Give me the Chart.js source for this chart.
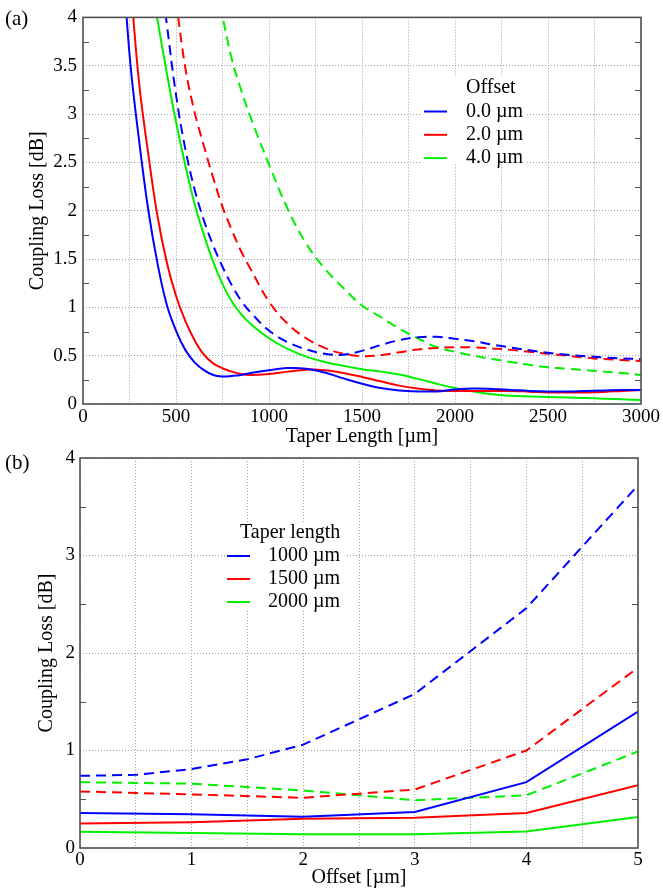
<!DOCTYPE html>
<html><head><meta charset="utf-8">
<script src="https://cdn.jsdelivr.net/npm/chart.js@4.4.1/dist/chart.umd.min.js"></script>
<style>
html,body{margin:0;padding:0;background:#fff;}
body{width:663px;height:893px;position:relative;overflow:hidden;font-family:"Liberation Serif",serif;}
#ca{position:absolute;left:0;top:0;}
#cb{position:absolute;left:0;top:440px;}
.panel{position:absolute;left:5px;font:21px "Liberation Serif",serif;color:#000;line-height:24px;}
</style></head><body>
<canvas id="ca" width="663" height="462"></canvas>
<canvas id="cb" width="663" height="453"></canvas>
<div class="panel" style="top:6px">(a)</div>
<div class="panel" style="top:450px">(b)</div>
<script>
// ---------- Panel (a): loss vs taper length ----------
const taperLength = [200,250,300,350,400,450,500,550,600,650,700,750,800,850,900,1000,1100,1200,1300,1400,1500,1600,1700,1800,1900,2000,2100,2200,2300,2400,2500,2600,2700,2800,2900,3000];
const solid00 = [5.0,3.62,2.75,2.02,1.46,1.03,0.76,0.56,0.43,0.35,0.30,0.285,0.29,0.30,0.32,0.35,0.372,0.365,0.325,0.265,0.21,0.165,0.14,0.13,0.13,0.15,0.16,0.155,0.145,0.135,0.13,0.13,0.135,0.14,0.145,0.145];
const solid20 = [null,4.5,3.35,2.6,1.95,1.47,1.12,0.86,0.66,0.51,0.42,0.37,0.335,0.31,0.30,0.31,0.335,0.355,0.35,0.32,0.28,0.235,0.19,0.16,0.14,0.135,0.135,0.135,0.135,0.128,0.12,0.118,0.12,0.125,0.135,0.145];
const solid40 = [null,null,null,4.55,3.98,3.43,2.92,2.47,2.07,1.75,1.47,1.24,1.06,0.93,0.83,0.68,0.57,0.49,0.435,0.395,0.36,0.335,0.305,0.26,0.21,0.165,0.13,0.10,0.085,0.078,0.072,0.067,0.062,0.055,0.048,0.042];
const dashed00 = [null,null,null,null,4.7,3.94,3.2,2.64,2.22,1.9,1.64,1.42,1.23,1.07,0.95,0.76,0.64,0.565,0.52,0.51,0.55,0.61,0.66,0.69,0.695,0.675,0.65,0.615,0.585,0.555,0.53,0.51,0.495,0.482,0.472,0.465];
const dashed20 = [null,null,null,null,null,null,4.17,3.48,3.02,2.67,2.34,2.04,1.8,1.58,1.4,1.06,0.83,0.68,0.58,0.52,0.495,0.505,0.535,0.565,0.58,0.588,0.585,0.575,0.56,0.54,0.52,0.5,0.48,0.465,0.455,0.445];
const dashed40 = [null,null,null,null,null,null,null,null,null,null,4.45,4.01,3.57,3.25,2.97,2.48,2.02,1.66,1.4,1.2,1.02,0.9,0.78,0.68,0.59,0.54,0.5,0.465,0.435,0.405,0.38,0.365,0.35,0.335,0.32,0.30];
const offsetLegend = ['0.0 µm','2.0 µm','4.0 µm'];
const xLabelsA = [0,500,1000,1500,2000,2500,3000];
const yLabelsA = [0,0.5,1,1.5,2,2.5,3,3.5,4];
const minorYA = [0.25,0.75,1.25,1.75,2.25,2.75,3.25,3.75];

// ---------- Panel (b): loss vs offset ----------
const offsets = [0,1,2,3,4,5];
const offsetsFine = [0,0.5,1,1.5,2,3,4,5];
const solid1000 = [0.36,0.345,0.32,0.37,0.675,1.4];
const solid1500 = [0.25,0.265,0.30,0.31,0.36,0.645];
const solid2000 = [0.167,0.154,0.14,0.14,0.17,0.317];
const dashed1000 = [0.74,0.75,0.81,0.91,1.06,1.58,2.46,3.72];
const dashed1500 = [0.58,0.55,0.515,0.60,1.0,1.85];
const dashed2000 = [0.675,0.66,0.59,0.49,0.54,0.99];
const taperLegend = ['1000 µm','1500 µm','2000 µm'];
const xLabelsB = [0,1,2,3,4,5];
const yLabelsB = [0,1,2,3,4];
const minorYB = [0.5,1.5,2.5,3.5];

const BLUE='#0000ff', RED='#ff0000', GREEN='#00f000';
const FONT='"Liberation Serif", "Times New Roman", serif';

function pts(xs, ys){ return xs.map((x,i)=>({x:x, y:ys[i]})); }
function ds(label, xs, ys, color, dashed, smooth){
  return {label:label, data:pts(xs,ys), borderColor:color, backgroundColor:color, borderWidth:2,
    borderDash: dashed?[10,6]:[], pointRadius:0, fill:false,
    cubicInterpolationMode:'default', tension: smooth?0.4:0};
}

const legendPlugin = {
  id:'customLegend',
  afterDraw(chart, args, o){
    const ctx=chart.ctx;
    ctx.save();
    ctx.fillStyle='#fff';
    ctx.fillRect(o.box[0],o.box[1],o.box[2],o.box[3]);
    ctx.font='20px '+FONT;
    ctx.fillStyle='#000';
    ctx.textBaseline='middle';
    ctx.textAlign='left';
    ctx.fillText(o.title, o.titleX, o.titleY);
    o.labels.forEach((lab,i)=>{
      const y=o.rowY+i*o.rowGap;
      ctx.strokeStyle=o.colors[i]; ctx.lineWidth=2; ctx.setLineDash([]);
      ctx.beginPath(); ctx.moveTo(o.lineX0,y); ctx.lineTo(o.lineX1,y); ctx.stroke();
      ctx.fillText(lab, o.textX, y);
    });
    ctx.restore();
  }
};
const framePlugin = {
  id:'frame',
  afterDraw(chart, args, o){
    const ctx=chart.ctx, a=chart.chartArea, y=chart.scales.y;
    ctx.save();
    ctx.setLineDash([]);
    ctx.strokeStyle='#505050'; ctx.lineWidth=1;
    o.minor.forEach(v=>{
      const p=Math.round(y.getPixelForValue(v))+0.5;
      ctx.beginPath(); ctx.moveTo(a.left,p); ctx.lineTo(a.left+6,p);
      ctx.moveTo(a.right,p); ctx.lineTo(a.right-6,p); ctx.stroke();
    });
    ctx.lineWidth=1.6;
    ctx.strokeRect(a.left, a.top, a.right-a.left, a.bottom-a.top);
    ctx.restore();
  }
};

function axisCommon(){
  return {
    grid:{color:'#a0a0a0', lineWidth:1, drawTicks:false},
    border:{display:false, dash:[1,2]}
  };
}

// Chart A
new Chart(document.getElementById('ca'), {
  type:'line',
  data:{datasets:[
    ds(offsetLegend[0], taperLength, solid00, BLUE, false, true),
    ds(offsetLegend[1], taperLength, solid20, RED, false, true),
    ds(offsetLegend[2], taperLength, solid40, GREEN, false, true),
    ds(offsetLegend[0]+' (dashed)', taperLength, dashed00, BLUE, true, true),
    ds(offsetLegend[1]+' (dashed)', taperLength, dashed20, RED, true, true),
    ds(offsetLegend[2]+' (dashed)', taperLength, dashed40, GREEN, true, true)
  ]},
  options:{
    responsive:false, animation:false, events:[],
    layout:{padding:{top:14,right:22,left:0,bottom:0}},
    plugins:{legend:{display:false}, tooltip:{enabled:false},
      customLegend:{box:[422,76,105,88], title:'Offset', titleX:466, titleY:88,
        labels:offsetLegend, colors:[BLUE,RED,GREEN], rowY:111.5, rowGap:23.3, lineX0:424, lineX1:447, textX:466},
      frame:{minor:minorYA}},
    scales:{
      x:Object.assign(axisCommon(),{type:'linear', min:0, max:3000,
        ticks:{stepSize:250, autoSkip:false, maxRotation:0, padding:2, color:'#000', font:{family:FONT,size:19},
          callback:v=>xLabelsA.includes(v)?String(v):''},
        title:{display:true, text:'Taper Length [µm]', color:'#000', font:{family:FONT,size:20}, padding:{top:0,bottom:13}},
        afterFit:s=>{s.height=58;}}),
      y:Object.assign(axisCommon(),{min:0, max:4,
        ticks:{stepSize:0.5, autoSkip:false, padding:6, color:'#000', font:{family:FONT,size:19},
          callback:v=>yLabelsA.includes(v)?String(v):''},
        title:{display:true, text:'Coupling Loss [dB]', color:'#000', font:{family:FONT,size:20}, padding:{top:26,bottom:0}},
        afterFit:s=>{s.width=83;}})
    }
  },
  plugins:[legendPlugin, framePlugin]
});

// Chart B
new Chart(document.getElementById('cb'), {
  type:'line',
  data:{datasets:[
    ds(taperLegend[0], offsets, solid1000, BLUE, false, false),
    ds(taperLegend[1], offsets, solid1500, RED, false, false),
    ds(taperLegend[2], offsets, solid2000, GREEN, false, false),
    ds(taperLegend[0]+' (dashed)', offsetsFine, dashed1000, BLUE, true, false),
    ds(taperLegend[1]+' (dashed)', offsets, dashed1500, RED, true, false),
    ds(taperLegend[2]+' (dashed)', offsets, dashed2000, GREEN, true, false)
  ]},
  options:{
    responsive:false, animation:false, events:[],
    layout:{padding:{top:18,right:25,left:0,bottom:0}},
    plugins:{legend:{display:false}, tooltip:{enabled:false},
      customLegend:{box:[226,82,119,87], title:'Taper length', titleX:240, titleY:93,
        labels:taperLegend, colors:[BLUE,RED,GREEN], rowY:116, rowGap:23, lineX0:227, lineX1:250, textX:268},
      frame:{minor:minorYB}},
    scales:{
      x:Object.assign(axisCommon(),{type:'linear', min:0, max:5,
        ticks:{stepSize:0.5, autoSkip:false, maxRotation:0, padding:1, color:'#000', font:{family:FONT,size:19},
          callback:v=>xLabelsB.includes(v)?String(v):''},
        title:{display:true, text:'Offset [µm]', color:'#000', font:{family:FONT,size:20}, padding:{top:0,bottom:3}},
        afterFit:s=>{s.height=45;}}),
      y:Object.assign(axisCommon(),{min:0, max:4,
        ticks:{stepSize:1, autoSkip:false, padding:5, color:'#000', font:{family:FONT,size:19},
          callback:v=>yLabelsB.includes(v)?String(v):''},
        title:{display:true, text:'Coupling Loss [dB]', color:'#000', font:{family:FONT,size:20}, padding:{top:35,bottom:0}},
        afterFit:s=>{s.width=80;}})
    }
  },
  plugins:[legendPlugin, framePlugin]
});
</script>
</body></html>
